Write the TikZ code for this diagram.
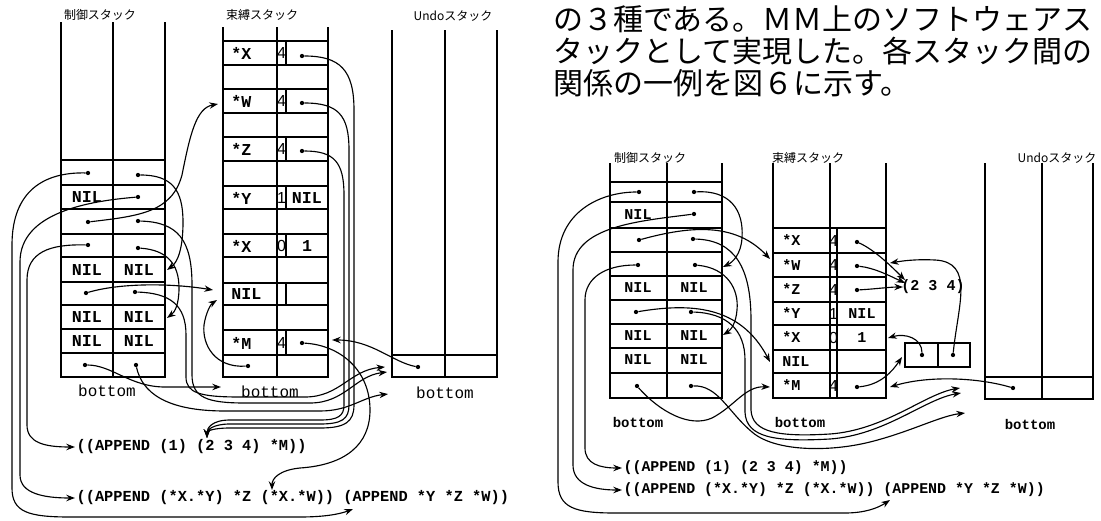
\documentclass[tikz,border=0pt]{standalone}
\usepackage{fontspec}
\usepackage{tikz}
\usetikzlibrary{arrows.meta}
\setmainfont{Liberation Serif}
\newfontfamily\monofam{Liberation Mono}
\newfontfamily\sansfam{Liberation Sans}
\newfontfamily\jpfam{Noto Sans CJK JP}
\newcommand\cellL{\monofam\bfseries\fontsize{12.5}{13}\selectfont}
\newcommand\cellR{\monofam\bfseries\fontsize{11.3}{12}\selectfont}
\newcommand\exprL{\monofam\bfseries\fontsize{11.5}{12}\selectfont}
\newcommand\exprR{\monofam\bfseries\fontsize{11.2}{12}\selectfont}
\newcommand\btmL{\monofam\fontsize{12}{12}\selectfont}
\newcommand\btmR{\monofam\bfseries\fontsize{10.5}{11}\selectfont}
\newcommand\digfont{\sansfam\fontsize{12}{12}\selectfont}
\newcommand\ttlfont{\jpfam\fontsize{9}{9}\selectfont}
\newcommand\parafont{\jpfam\fontsize{22.5}{24}\selectfont}
\tikzset{
  post/.style={line width=1.3pt},
  sep/.style={line width=0.8pt},
  septhick/.style={line width=1.6pt},
  link/.style={line width=0.85pt,-{Stealth[length=6.5pt,width=4.8pt]}},
  dot/.style={circle,fill,inner sep=0pt,minimum size=3.2pt},
  lbl/.style={font=\cellL,inner sep=0pt},
  rlbl/.style={font=\cellR,inner sep=0pt},
  num/.style={font=\digfont,inner sep=0pt},
}

\begin{document}
\begin{tikzpicture}[x=0.75pt,y=-0.75pt]
\path[use as bounding box] (0,0) rectangle (1101,521);
\fill[white] (0,0) rectangle (1101,521);

% ---- left figure: stacks
\node[font=\ttlfont] (lcTitle) at (100,15) {制御スタック};
\node[font=\ttlfont] (lbTitle) at (262,15) {束縛スタック};
\node[font=\ttlfont] (luTitle) at (453,16) {Undoスタック};

\draw[post] (61,22) -- (61,377) -- (165,377) -- (165,22);
\draw[post] (113,22) -- (113,377);
\draw[sep] (61,160) -- (165,160) (61,185) -- (165,185) (61,209) -- (165,209)
  (61,257) -- (165,257) (61,282) -- (165,282) (61,329) -- (165,329) (61,353) -- (165,353);
\draw[septhick] (61,234) -- (165,234) (61,305) -- (165,305);

\draw[post] (223,27) -- (223,377) -- (328,377) -- (328,27);
\draw[post] (277,27) -- (277,377);
\draw[septhick] (223,41) -- (328,41) (223,89) -- (328,89) (223,137) -- (328,137)
  (223,186) -- (328,186) (223,234) -- (328,234) (223,283) -- (328,283) (223,330) -- (328,330);
\draw[sep] (223,65) -- (328,65) (223,113) -- (328,113) (223,161) -- (328,161)
  (223,209) -- (328,209) (223,257) -- (328,257) (223,305) -- (328,305) (223,355) -- (328,355);
\draw[sep] (286,41) -- (286,65) (286,89) -- (286,113) (286,137) -- (286,161)
  (286,186) -- (286,209) (286,234) -- (286,257) (286,283) -- (286,305) (286,330) -- (286,355);

\draw[post] (392,30) -- (392,377) -- (497,377) -- (497,30);
\draw[post] (445,30) -- (445,355);
\draw[septhick] (445,355) -- (445,377);
\draw[sep] (392,355) -- (497,355);

% control stack cells
\node[lbl] (lcNil2) at (87,197) {NIL};
\node[lbl] (lcNil5a) at (87,270) {NIL};
\node[lbl] (lcNil5b) at (139,270) {NIL};
\node[lbl] (lcNil7a) at (87,317) {NIL};
\node[lbl] (lcNil7b) at (139,317) {NIL};
\node[lbl] (lcNil8a) at (87,341) {NIL};
\node[lbl] (lcNil8b) at (139,341) {NIL};
\node[font=\btmL] (lcBot) at (107,391) {bottom};

% binding stack cells
\node[lbl,anchor=west] (lbX1) at (231,53) {*X};
\node[num] (lbN1) at (281.5,53) {4};
\node[lbl,anchor=west] (lbW) at (231,101) {*W};
\node[num] (lbN3) at (281.5,101) {4};
\node[lbl,anchor=west] (lbZ) at (231,149) {*Z};
\node[num] (lbN5) at (281.5,149) {4};
\node[lbl,anchor=west] (lbY) at (231,198) {*Y};
\node[num] (lbN7) at (281.5,198) {1};
\node[lbl] (lbV7) at (307,198) {NIL};
\node[lbl,anchor=west] (lbX2) at (231,246) {*X};
\node[num] (lbN9) at (281.5,246) {0};
\node[lbl] (lbV9) at (307,246) {1};
\node[lbl,anchor=west] (lbNil) at (231,294) {NIL};
\node[lbl,anchor=west] (lbM) at (231,343) {*M};
\node[num] (lbN13) at (281.5,343) {4};
\node[font=\btmL] (lbBot) at (270,392) {bottom};
\node[font=\btmL] (luBot) at (445,393) {bottom};

% expressions
\node[font=\exprL,anchor=west,inner sep=1pt] (lE1) at (75,447) {((APPEND (1) (2 3 4) *M))};
\node[font=\exprL,anchor=west,inner sep=1pt] (lE2) at (75,498) {((APPEND (*X.*Y) *Z (*X.*W)) (APPEND *Y *Z *W))};

% pointers
\node[dot] (lc1L) at (88,173) {};
\node[dot] (lc1R) at (138,175) {};
\node[dot] (lc2R) at (138,197) {};
\node[dot] (lc3L) at (88,222) {};
\node[dot] (lc3R) at (138,221) {};
\node[dot] (lc4L) at (88,245) {};
\node[dot] (lc4R) at (138,248) {};
\node[dot] (lc6L) at (86,293) {};
\node[dot] (lc6R) at (135,292) {};
\node[dot] (lc9L) at (85,365) {};
\node[dot] (lc9R) at (136,365) {};
\node[dot] (lb1) at (302,56) {};
\node[dot] (lb3) at (302,103) {};
\node[dot] (lb5) at (302,151) {};
\node[dot] (lb13) at (302,343) {};
\node[dot] (lb14) at (248,366) {};
\node[dot] (lu) at (418,367) {};

\coordinate (lt5) at (167,270);
\coordinate (lt7) at (167,318);
\coordinate (ltW) at (218,104);
\coordinate (ltNil) at (213,290);
\coordinate (ltNil2) at (217,300);
\coordinate (ltBot) at (221,387);
\coordinate (ltM) at (332,340);
\coordinate (ltU1) at (385,367);
\coordinate (ltU2) at (387,372);
\coordinate (ltU3) at (388,394);
\coordinate (lt234) at (207,438);
\coordinate (ltXW) at (272,490);
\coordinate (ltAp) at (353,509);

\draw[link] (lc1L) .. controls (45,172) and (12,190) .. (12,245) -- (12,488)
  .. controls (12,512) and (28,517) .. (70,517) -- (300,517) .. controls (325,517) and (340,514) .. (ltAp);
\draw[link] (lc2R) .. controls (90,201) and (20,212) .. (20,262) -- (20,475)
  .. controls (20,494) and (45,498) .. (lE2.west);
\draw[link] (lc4L) .. controls (50,244) and (27,252) .. (27,280) -- (27,425)
  .. controls (27,443) and (45,447) .. (lE1.west);
\draw[link] (lc3L) .. controls (140,216) and (172,212) .. (182,175) .. controls (190,135) and (196,108) .. (ltW);
\draw[link] (lc1R) .. controls (172,175) and (183,190) .. (183,222) .. controls (183,248) and (178,262) .. (lt5);
\draw[link] (lc4R) .. controls (168,250) and (179,265) .. (179,288) .. controls (179,304) and (175,312) .. (lt7);
\draw[link] (lc3R) .. controls (178,222) and (192,240) .. (192,285) -- (192,375)
  .. controls (192,398) and (208,403) .. (245,403) -- (310,403) .. controls (345,403) and (355,376) .. (ltU2);
\draw[link] (lc6R) .. controls (170,293) and (186,305) .. (186,335) -- (186,377)
  .. controls (186,393) and (200,397) .. (240,397) -- (305,397) .. controls (340,397) and (350,370) .. (ltU1);
\draw[link] (lc9R) .. controls (142,392) and (165,411) .. (225,411) -- (320,411) .. controls (350,411) and (362,397) .. (ltU3);
\draw[link] (lc6L) .. controls (120,283) and (170,283) .. (ltNil);
\draw[link] (lc9L) .. controls (112,365) and (130,387) .. (165,387) -- (ltBot);
\draw[link] (lb14) .. controls (215,368) and (202,345) .. (204,325) .. controls (206,312) and (211,304) .. (ltNil2);
\draw[link] (lb1) .. controls (340,56) and (354,70) .. (354,110) -- (354,405)
  .. controls (354,422) and (345,428) .. (320,428) -- (230,428) .. controls (213,428) and (207,431) .. (lt234);
\draw[link] (lb3) .. controls (338,103) and (349,115) .. (349,150) -- (349,405)
  .. controls (349,419) and (342,424) .. (320,424) -- (230,424) .. controls (213,424) and (207,430) .. (lt234);
\draw[link] (lb5) .. controls (334,151) and (344,162) .. (344,195) -- (344,405)
  .. controls (344,416) and (338,420) .. (320,420) -- (230,420) .. controls (212,420) and (207,428) .. (lt234);
\draw[link] (lb13) .. controls (340,345) and (370,370) .. (370,410) .. controls (370,445) and (345,465) .. (300,468)
  .. controls (280,470) and (272,478) .. (ltXW);
\draw[link] (lu) .. controls (392,362) and (372,340) .. (ltM);

% ---- right figure: text
\node[font=\parafont,anchor=west,inner sep=0pt] (para1) at (553,19) {の３種である。ＭＭ上のソフトウェアス};
\node[font=\parafont,anchor=west,inner sep=0pt] (para2) at (553,51) {タックとして実現した。各スタック間の};
\node[font=\parafont,anchor=west,inner sep=0pt] (para3) at (553,83) {関係の一例を図６に示す。};

\node[font=\ttlfont] (rcTitle) at (650,158) {制御スタック};
\node[font=\ttlfont] (rbTitle) at (808,158) {束縛スタック};
\node[font=\ttlfont] (ruTitle) at (1057,158) {Undoスタック};

\draw[post] (610,163) -- (610,398) -- (722,398) -- (722,163);
\draw[post] (667,163) -- (667,398);
\draw[septhick] (610,182) -- (722,182) (610,252) -- (722,252);
\draw[sep] (610,202) -- (722,202) (610,228) -- (722,228) (610,276) -- (722,276) (610,300) -- (722,300)
  (610,324) -- (722,324) (610,348) -- (722,348) (610,373) -- (722,373);

\draw[post] (773,163) -- (773,398) -- (886,398) -- (886,163);
\draw[post] (830,163) -- (830,398);
\draw[sep] (837,228) -- (837,398);
\draw[septhick] (773,228) -- (886,228) (773,253) -- (886,253) (773,277) -- (886,277) (773,302) -- (886,302)
  (773,325) -- (886,325) (773,350) -- (886,350) (773,373) -- (886,373);

\draw[post] (985,163) -- (985,399) -- (1093,399) -- (1093,163);
\draw[post] (1042,163) -- (1042,377);
\draw[septhick] (1042,377) -- (1042,399);
\draw[sep] (985,377) -- (1093,377);

\draw[sep] (905,343) rectangle (970,367);
\draw[sep] (938,343) -- (938,367);

\node[rlbl] (rcNil2) at (638,215) {NIL};
\node[rlbl] (rcNil5a) at (638,288) {NIL};
\node[rlbl] (rcNil5b) at (694,288) {NIL};
\node[rlbl] (rcNil7a) at (638,336) {NIL};
\node[rlbl] (rcNil7b) at (694,336) {NIL};
\node[rlbl] (rcNil8a) at (638,360) {NIL};
\node[rlbl] (rcNil8b) at (694,360) {NIL};
\node[font=\btmR] (rcBot) at (638,422) {bottom};

\node[rlbl,anchor=west] (rbX1) at (782,240.5) {*X};
\node[num] (rbN1) at (833.5,240.5) {4};
\node[rlbl,anchor=west] (rbW) at (782,265) {*W};
\node[num] (rbN2) at (833.5,265) {4};
\node[rlbl,anchor=west] (rbZ) at (782,289.5) {*Z};
\node[num] (rbN3) at (833.5,289.5) {4};
\node[rlbl,anchor=west] (rbY) at (782,313.5) {*Y};
\node[num] (rbN4) at (833.5,313.5) {1};
\node[rlbl] (rbV4) at (862,313.5) {NIL};
\node[rlbl,anchor=west] (rbX2) at (782,337.5) {*X};
\node[num] (rbN5) at (833.5,337.5) {0};
\node[rlbl] (rbV5) at (862,337.5) {1};
\node[rlbl,anchor=west] (rbNil) at (782,361.5) {NIL};
\node[rlbl,anchor=west] (rbM) at (782,385.5) {*M};
\node[num] (rbN7) at (833.5,385.5) {4};
\node[font=\btmR] (rbBot) at (800,422) {bottom};
\node[font=\btmR] (ruBot) at (1030,424) {bottom};
\node[rlbl] (r234) at (933,287) {(2 3 4)};

\node[font=\exprR,anchor=west,inner sep=1pt] (rE1) at (622,468) {((APPEND (1) (2 3 4) *M))};
\node[font=\exprR,anchor=west,inner sep=1pt] (rE2) at (622,490) {((APPEND (*X.*Y) *Z (*X.*W)) (APPEND *Y *Z *W))};

\node[dot] (rc1L) at (639,192) {};
\node[dot] (rc1R) at (694,192) {};
\node[dot] (rc2R) at (694,214) {};
\node[dot] (rc3L) at (639,240) {};
\node[dot] (rc3R) at (693,239) {};
\node[dot] (rc4L) at (638,265) {};
\node[dot] (rc4R) at (695,265) {};
\node[dot] (rc6L) at (636,312) {};
\node[dot] (rc6R) at (691,312) {};
\node[dot] (rc9L) at (637,386) {};
\node[dot] (rc9R) at (691,386) {};
\node[dot] (rb1) at (857,242) {};
\node[dot] (rb2) at (857,266) {};
\node[dot] (rb3) at (857,290) {};
\node[dot] (rb7) at (857,387) {};
\node[dot] (rcons1) at (922,355) {};
\node[dot] (rcons2) at (953,355) {};
\node[dot] (ru) at (1013,388) {};

\coordinate (rt4) at (723,267);
\coordinate (rt7) at (723,335);
\coordinate (rtW) at (770,259);
\coordinate (rtNil) at (770,362);
\coordinate (rtM) at (770,387);
\coordinate (rtU1) at (960,388);
\coordinate (rtU2) at (961,393);
\coordinate (rtU3) at (965,413);
\coordinate (rtAp) at (890,500);
\coordinate (rt234a) at (905,280);
\coordinate (rt234b) at (905,283);
\coordinate (rt234c) at (903,287);
\coordinate (rtCons) at (902,357);
\coordinate (rtX2) at (888,338);
\coordinate (rtW2) at (890,263);
\coordinate (rtM2) at (890,387);

\draw[link] (rc1L) .. controls (600,192) and (558,212) .. (558,262) -- (558,482)
  .. controls (558,508) and (575,513) .. (615,513) -- (845,513) .. controls (865,513) and (878,508) .. (rtAp);
\draw[link] (rc2R) .. controls (640,221) and (573,226) .. (573,270) -- (573,465)
  .. controls (573,485) and (595,490) .. (rE2.west);
\draw[link] (rc4L) .. controls (605,265) and (585,278) .. (585,300) -- (585,448)
  .. controls (585,464) and (600,468) .. (rE1.west);
\draw[link] (rc3L) .. controls (690,226) and (735,222) .. (rtW);
\draw[link] (rc1R) .. controls (730,190) and (744,210) .. (742,238) .. controls (741,254) and (733,262) .. (rt4);
\draw[link] (rc4R) .. controls (728,268) and (739,290) .. (737,310) .. controls (736,323) and (731,330) .. (rt7);
\draw[link] (rc3R) .. controls (735,240) and (751,268) .. (751,320) -- (751,410)
  .. controls (752,433) and (780,437) .. (830,434) .. controls (885,430) and (925,394) .. (rtU1);
\draw[link] (rc6R) .. controls (727,313) and (745,330) .. (745,360) -- (745,412)
  .. controls (746,438) and (776,442) .. (830,439) .. controls (885,435) and (925,399) .. (rtU2);
\draw[link] (rc9R) .. controls (718,385) and (728,412) .. (752,432) .. controls (775,452) and (830,452) .. (870,442)
  .. controls (910,432) and (940,416) .. (rtU3);
\draw[link] (rc6L) .. controls (690,303) and (740,305) .. (rtNil);
\draw[link] (rc9L) .. controls (660,412) and (690,428) .. (712,418) .. controls (735,406) and (745,386) .. (rtM);
\draw[link] (rb1) .. controls (875,250) and (893,268) .. (rt234a);
\draw[link] (rb2) .. controls (875,268) and (890,276) .. (rt234b);
\draw[link] (rb3) .. controls (875,289) and (890,287) .. (rt234c);
\draw[link] (rb7) .. controls (880,385) and (892,372) .. (rtCons);
\draw[link] (rcons1) .. controls (922,338) and (905,333) .. (rtX2);
\draw[link] (rcons2) .. controls (958,305) and (975,262) .. (935,260) .. controls (915,259) and (902,261) .. (rtW2);
\draw[link] (ru) .. controls (980,378) and (930,375) .. (rtM2);
\end{tikzpicture}
\end{document}
